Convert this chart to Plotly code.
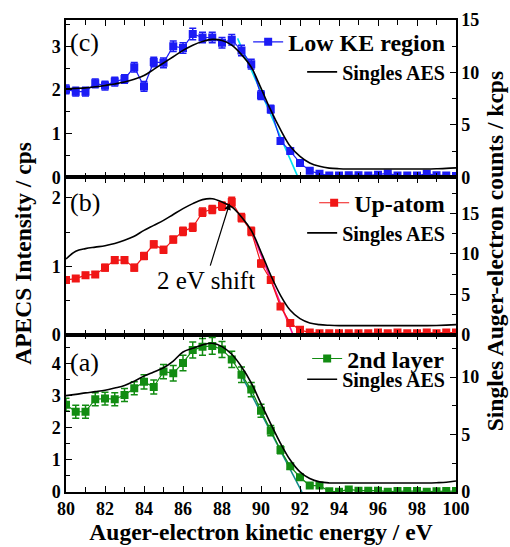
import plotly.graph_objects as go
from plotly.subplots import make_subplots

# ---------------- data ----------------
energy = [80.0, 80.5, 81.0, 81.5, 82.0, 82.5, 83.0, 83.5, 84.0, 84.5,
          85.0, 85.5, 86.0, 86.5, 87.0, 87.5, 88.0, 88.5, 89.0, 89.5,
          90.0, 90.5, 91.0, 91.5, 92.0, 92.5, 93.0, 93.5, 94.0, 94.5,
          95.0, 95.5, 96.0, 96.5, 97.0, 97.5, 98.0, 98.5, 99.0, 99.5, 100.0]

# (c) Low KE region, APECS cps
low_ke = [2.01, 1.96, 1.96, 2.15, 2.10, 2.19, 2.25, 2.52, 2.08, 2.64,
          2.62, 3.00, 2.96, 3.28, 3.20, 3.20, 3.08, 3.15, 2.90, 2.59,
          1.88, 1.56, 0.83, 0.60, 0.33, 0.15, 0.08, 0.04, 0.04, 0.05,
          0.05, 0.04, 0.06, 0.09, 0.04, 0.04, 0.04, 0.08, 0.05, 0.04, 0.03]
low_ke_err = [0.10, 0.10, 0.10, 0.10, 0.10, 0.10, 0.10, 0.11, 0.11, 0.11,
              0.11, 0.12, 0.12, 0.13, 0.12, 0.12, 0.12, 0.12, 0.12, 0.11,
              0.10, 0.09, 0.07, 0.06, 0.05, 0.04, 0.03, 0.02, 0.02, 0.02,
              0.02, 0.02, 0.02, 0.02, 0.02, 0.02, 0.02, 0.02, 0.02, 0.02, 0.02]
singles_c = [8.44, 8.48, 8.53, 8.63, 8.76, 8.90, 9.08, 9.35, 9.70, 10.30,
             10.90, 11.50, 12.10, 12.60, 12.95, 13.15, 13.05, 12.60, 11.70, 10.50,
             8.50, 6.40, 4.55, 2.96, 2.00, 1.37, 1.05, 0.88, 0.82, 0.80,
             0.80, 0.80, 0.80, 0.80, 0.80, 0.80, 0.80, 0.80, 0.82, 0.85, 0.90]
fit_c_x = [88.8, 91.9]
fit_c_y = [3.18, 0.0]

# (b) Up-atom
up_atom = [0.80, 0.82, 0.87, 0.88, 0.98, 1.09, 1.09, 0.98, 1.15, 1.32,
           1.24, 1.39, 1.51, 1.57, 1.79, 1.83, 1.88, 1.94, 1.71, 1.51,
           1.04, 0.80, 0.41, 0.17, 0.07, 0.03, 0.02, 0.02, 0.02, 0.02,
           0.02, 0.02, 0.03, 0.02, 0.03, 0.02, 0.02, 0.03, 0.02, 0.03, 0.03]
up_atom_err = [0.04, 0.04, 0.04, 0.04, 0.05, 0.05, 0.05, 0.05, 0.05, 0.05,
               0.05, 0.05, 0.06, 0.06, 0.06, 0.06, 0.06, 0.07, 0.06, 0.06,
               0.05, 0.04, 0.03, 0.03, 0.02, 0.02, 0.01, 0.01, 0.01, 0.01,
               0.01, 0.01, 0.01, 0.01, 0.01, 0.01, 0.01, 0.01, 0.01, 0.01, 0.01]
singles_b = [9.38, 10.33, 10.66, 10.85, 11.03, 11.30, 11.69, 12.19, 12.93, 13.55,
             14.17, 14.90, 15.62, 16.24, 16.74, 16.85, 16.45, 15.83, 14.59, 12.93,
             10.25, 7.36, 4.88, 3.02, 1.98, 1.45, 1.24, 1.16, 1.12, 1.12,
             1.12, 1.12, 1.12, 1.12, 1.12, 1.12, 1.12, 1.12, 1.14, 1.18, 1.24]
fit_b_x = [89.6, 91.64]
fit_b_y = [1.45, 0.0]

# (a) 2nd layer
second_layer = [2.72, 2.50, 2.50, 2.89, 2.91, 2.89, 3.02, 3.23, 3.43, 3.27,
                3.75, 3.70, 4.02, 4.42, 4.52, 4.55, 4.44, 4.13, 3.65, 3.19,
                2.53, 1.91, 1.31, 0.80, 0.46, 0.20, 0.20, 0.02, 0.01, 0.08,
                0.04, 0.04, 0.04, 0.01, 0.03, 0.03, 0.03, 0.01, 0.02, 0.03, 0.03]
second_layer_err = [0.20, 0.20, 0.20, 0.20, 0.20, 0.20, 0.20, 0.20, 0.22, 0.22,
                    0.22, 0.24, 0.24, 0.25, 0.26, 0.26, 0.25, 0.25, 0.24, 0.22,
                    0.20, 0.16, 0.12, 0.09, 0.06, 0.05, 0.04, 0.03, 0.03, 0.03,
                    0.03, 0.03, 0.03, 0.03, 0.03, 0.03, 0.03, 0.03, 0.03, 0.03, 0.03]
singles_a = [8.39, 8.50, 8.63, 8.74, 8.86, 9.05, 9.27, 9.65, 10.09, 10.45,
             10.82, 11.40, 12.19, 12.51, 12.81, 12.95, 12.66, 11.99, 10.91, 9.50,
             7.69, 5.94, 4.24, 2.78, 1.75, 1.17, 0.88, 0.79, 0.79, 0.79,
             0.79, 0.79, 0.79, 0.79, 0.79, 0.79, 0.79, 0.79, 0.81, 0.85, 0.96]
fit_a_x = [88.9, 92.1]
fit_a_y = [3.75, 0.0]

x_ticks = [80, 82, 84, 86, 88, 90, 92, 94, 96, 98, 100]

# ---------------- styling ----------------
FONT = "Liberation Serif"
BLUE = "#1c1cf5"
RED = "#f01616"
GREEN = "#128c12"

fig = make_subplots(rows=3, cols=1, shared_xaxes=True, vertical_spacing=0,
                    specs=[[{"secondary_y": True}]] * 3)

panels = [
    (1, low_ke, low_ke_err, BLUE, "Low KE region", singles_c, fit_c_x, fit_c_y, "#00e0f0", "legend", "legend2"),
    (2, up_atom, up_atom_err, RED, "Up-atom", singles_b, fit_b_x, fit_b_y, "#ff1493", "legend3", "legend4"),
    (3, second_layer, second_layer_err, GREEN, "2nd layer", singles_a, fit_a_x, fit_a_y, "#128a8a", "legend5", "legend6"),
]

for row, vals, errs, col, name, sing, fx, fy, fcol, lg1, lg2 in panels:
    fig.add_trace(go.Scatter(x=energy, y=sing, mode="lines", name="Singles AES",
                             line=dict(color="black", width=1.6, shape="spline"),
                             legend=lg2, showlegend=True),
                  row=row, col=1, secondary_y=True)
    fig.add_trace(go.Scatter(x=fx, y=fy, mode="lines", showlegend=False,
                             line=dict(color=fcol, width=1.6)),
                  row=row, col=1, secondary_y=False)
    fig.add_trace(go.Scatter(x=energy, y=vals, mode="lines+markers", name=name,
                             line=dict(color=col, width=1.2),
                             marker=dict(symbol="square", size=8, color=col),
                             error_y=dict(type="data", array=errs, color=col,
                                          thickness=1.5, width=3.5),
                             legend=lg1, showlegend=True),
                  row=row, col=1, secondary_y=False)

left_ranges = {1: [0, 3.6], 2: [0, 2.3], 3: [0, 4.9]}
right_ranges = {1: [0, 15], 2: [0, 19.5], 3: [0, 13.7]}
y_domains = {1: [2 / 3, 1.0], 2: [1 / 3, 2 / 3], 3: [0.0, 1 / 3]}

tickfont = dict(family=FONT, size=18, color="black", weight="bold")

for row in (1, 2, 3):
    fig.update_xaxes(range=[80, 100], domain=[0, 1], tickvals=x_ticks, ticks="inside", ticklen=6,
                     tickwidth=1.3, tickcolor="black",
                     minor=dict(dtick=1, ticks="inside", ticklen=5, tickwidth=1.3, tickcolor="black"),
                     showline=True, linecolor="black", linewidth=1.5, mirror="ticks",
                     showgrid=False, zeroline=False, tickfont=tickfont, automargin=False,
                     row=row, col=1)
    fig.update_yaxes(range=left_ranges[row], domain=y_domains[row], dtick=1, tick0=0,
                     ticks="inside", ticklen=6, tickwidth=1.3, tickcolor="black",
                     minor=dict(dtick=0.5, ticks="inside", ticklen=4, tickwidth=1.3, tickcolor="black"),
                     showline=True, linecolor="black", linewidth=1.5,
                     showgrid=False, zeroline=False, tickfont=tickfont, automargin=False,
                     row=row, col=1, secondary_y=False)
    fig.update_yaxes(range=right_ranges[row], domain=y_domains[row], dtick=5, tick0=0,
                     ticks="inside", ticklen=6, tickwidth=1.3, tickcolor="black",
                     minor=dict(dtick=2.5, ticks="inside", ticklen=4, tickwidth=1.3, tickcolor="black"),
                     showline=True, linecolor="black", linewidth=1.5,
                     showgrid=False, zeroline=False, tickfont=tickfont, automargin=False,
                     row=row, col=1, secondary_y=True)

fig.update_xaxes(title=dict(text="Auger-electron kinetic energy / eV",
                            font=dict(family=FONT, size=23.5, color="black", weight="bold"),
                            standoff=4),
                 row=3, col=1)

big_leg = dict(family=FONT, size=24, color="black", weight="bold")
small_leg = dict(family=FONT, size=20, color="black", weight="bold")
leg_common = dict(xanchor="right", yanchor="middle", bgcolor="rgba(0,0,0,0)",
                  borderwidth=0, itemwidth=30, tracegroupgap=0)

fig.update_layout(
    width=510, height=547,
    margin=dict(l=66, r=54, t=20, b=55, autoexpand=False),
    paper_bgcolor="white", plot_bgcolor="white",
    font=dict(family=FONT, color="black"),
    legend=dict(x=0.985, y=0.953, font=big_leg, **leg_common),
    legend2=dict(x=0.985, y=0.89, font=small_leg, **leg_common),
    legend3=dict(x=0.985, y=0.612, font=big_leg, **leg_common),
    legend4=dict(x=0.985, y=0.549, font=small_leg, **leg_common),
    legend5=dict(x=0.985, y=0.282, font=big_leg, **leg_common),
    legend6=dict(x=0.985, y=0.239, font=small_leg, **leg_common),
)

# panel labels
for lbl, xr, yr, ypos in [("(c)", "x domain", "y domain", 0.86),
                          ("(b)", "x2 domain", "y3 domain", 0.84),
                          ("(a)", "x3 domain", "y5 domain", 0.82)]:
    fig.add_annotation(text=lbl, xref=xr, yref=yr, x=0.005, y=ypos,
                       xanchor="left", yanchor="middle", showarrow=False,
                       font=dict(family=FONT, size=26, color="black"))

# 2 eV shift arrow
fig.add_annotation(text="2 eV shift", x=88.39, y=1.92, xref="x2", yref="y3",
                   ax=87.16, ay=0.79, axref="x2", ayref="y3",
                   showarrow=True, arrowhead=2, arrowsize=1.1, arrowwidth=1.2,
                   arrowcolor="black",
                   font=dict(family=FONT, size=25, color="black"))

# axis titles
fig.add_annotation(text="APECS Intensity / cps", xref="paper", yref="paper",
                   x=-0.11, y=0.505, xanchor="center", yanchor="middle", textangle=-90,
                   showarrow=False,
                   font=dict(family=FONT, size=23.5, color="black", weight="bold"))
fig.add_annotation(text="Singles Auger-electron counts / kcps", xref="paper", yref="paper",
                   x=1.10, y=0.51, xanchor="center", yanchor="middle", textangle=-90,
                   showarrow=False,
                   font=dict(family=FONT, size=23.5, color="black", weight="bold"))

fig.write_html("out.html", config={"displayModeBar": False},
               post_script="document.body.style.margin='0';document.body.style.overflow='hidden';")
